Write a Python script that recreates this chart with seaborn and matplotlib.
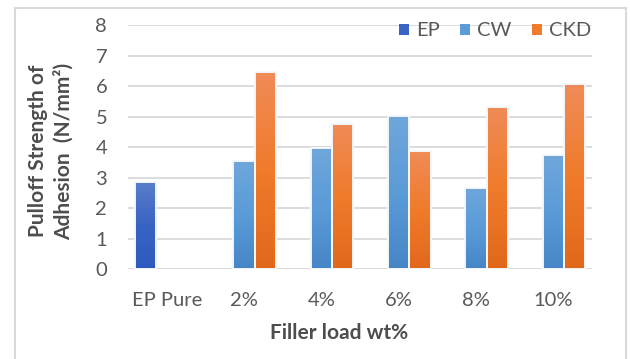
import matplotlib
matplotlib.use("Agg")
import matplotlib.pyplot as plt
import seaborn as sns
import pandas as pd
import numpy as np
from matplotlib.patches import Rectangle
from matplotlib.colors import LinearSegmentedColormap

categories = ["EP Pure", "2%", "4%", "6%", "8%", "10%"]
series = ["EP", "CW", "CKD"]
ep_vals = [2.85, None, None, None, None, None]
cw_vals = [None, 3.55, 3.97, 5.03, 2.66, 3.73]
ckd_vals = [None, 6.47, 4.75, 3.89, 5.32, 6.06]
y_ticks = [0, 1, 2, 3, 4, 5, 6, 7, 8]

colors = {"EP": "#3f68c6", "CW": "#5b9bd5", "CKD": "#ef7a2c"}
gradients = {
    "EP": ["#2e5abd", "#3a64c4", "#5a7ecb"],
    "CW": ["#4686c6", "#5a9bd8", "#70a7db"],
    "CKD": ["#e1681b", "#f07b2b", "#ef8c58"],
}

rows = []
for name, vals in zip(series, [ep_vals, cw_vals, ckd_vals]):
    for c, v in zip(categories, vals):
        if v is not None:
            rows.append({"cat": c, "series": name, "value": v})
df = pd.DataFrame(rows)

sns.set_theme(style="white")
plt.rcParams["font.family"] = ["Lato", "DejaVu Sans"]

fig = plt.figure(figsize=(6.3, 3.59), dpi=100)
ax = fig.add_axes([128/630, 1-269.3/359, (592-128)/630, (269.3-25)/359])

sns.barplot(data=df, x="cat", y="value", hue="series", order=categories,
            hue_order=series, palette=colors, width=0.83, ax=ax,
            edgecolor="white", linewidth=1.4, saturation=1, zorder=3)

xlim = ax.get_xlim()
grad = np.linspace(0, 1, 256).reshape(-1, 1)
for name, cont in zip(series, ax.containers):
    cmap = LinearSegmentedColormap.from_list(name, gradients[name])
    for p in cont.patches:
        x, y = p.get_x(), p.get_y()
        w, h = p.get_width(), p.get_height()
        if not np.isfinite(h) or h == 0:
            continue
        im = ax.imshow(grad, extent=[x, x + w, y, y + h], origin="lower",
                       aspect="auto", cmap=cmap, zorder=3.5)
        im.set_clip_path(p)
        p.set_facecolor("none")
        p.set_edgecolor("#f4f7fb")
        p.set_zorder(4)

ax.set_xlim(xlim)
ax.set_ylim(0, 8)
ax.set_yticks(y_ticks)
ax.yaxis.grid(True, color="#d9d9d9", linewidth=1.3, zorder=0)
ax.set_axisbelow(True)
for s in ax.spines.values():
    s.set_visible(False)
ax.tick_params(axis="both", length=0, labelsize=14.5, labelcolor="#595959")
ax.tick_params(axis="x", pad=16)
ax.tick_params(axis="y", pad=15)
ax.set_xlabel("")
ax.set_ylabel("")
fig.text(339/630, 1-333/359, "Filler load wt%", fontsize=15, fontweight="bold",
         color="#4d4d4d", ha="center", va="center")
fig.text(51/630, 1-151/359, "Pulloff Strength of\nAdhesion  (N/mm²)", fontsize=15,
         fontweight="bold", color="#4d4d4d", ha="center", va="center",
         rotation=90, linespacing=1.3, multialignment="center")

sns.move_legend(ax, "center right", bbox_to_anchor=(591/630, 1-31/359),
                bbox_transform=fig.transFigure, ncol=3, frameon=False,
                title=None, fontsize=14.5, handlelength=0.5, handleheight=0.5,
                columnspacing=1.0, handletextpad=0.35, borderaxespad=0, borderpad=0)
for t in ax.get_legend().get_texts():
    t.set_color("#595959")
for h, name in zip(ax.get_legend().legend_handles, series):
    h.set_edgecolor("none")
    h.set_facecolor(gradients[name][1])

fig.patches.append(Rectangle((15/630, -0.1), (626-15)/630, 1.078, transform=fig.transFigure,
                             fill=False, edgecolor="#d9d9d9", linewidth=1.5))

fig.savefig("out.png", dpi=100)
